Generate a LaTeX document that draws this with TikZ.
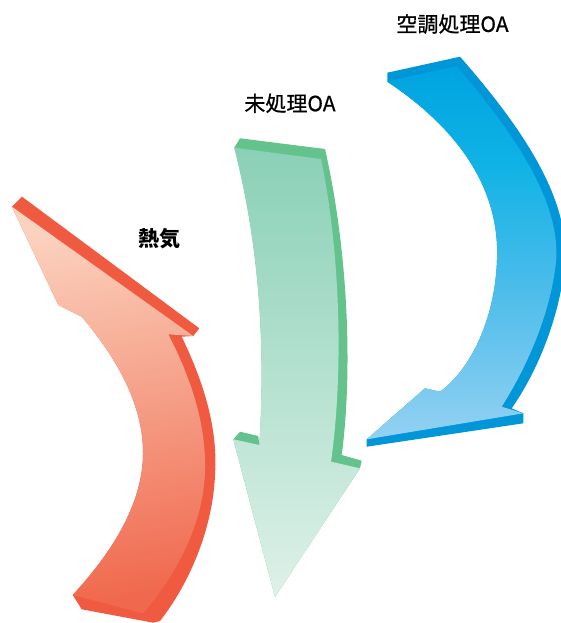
\documentclass[tikz,border=0pt]{standalone}
\usepackage{fontspec}
\newfontfamily\jp[FakeBold=0.7]{Noto Sans CJK JP}
\newfontfamily\jpb{Noto Sans CJK JP}
\definecolor{redband}{RGB}{240,90,65}
\definecolor{redtop}{RGB}{251,210,190}
\definecolor{redbot}{RGB}{240,105,78}
\definecolor{greenband}{RGB}{100,195,140}
\definecolor{greentop}{RGB}{138,208,183}
\definecolor{greenbot}{RGB}{222,241,232}
\definecolor{blueband}{RGB}{0,150,215}
\pgfdeclareverticalshading{bluegrad}{100bp}{
  rgb(0bp)=(0.58,0.82,0.95);
  rgb(25bp)=(0.58,0.82,0.95);
  rgb(45bp)=(0.30,0.74,0.92);
  rgb(62bp)=(0.06,0.70,0.90);
  rgb(75bp)=(0,0.64,0.88);
  rgb(100bp)=(0,0.64,0.88)}
\tikzset{lbl/.style={font=\jp\fontsize{21}{21}\selectfont, inner sep=0pt}}
\begin{document}
\begin{tikzpicture}[x=1pt,y=-1pt]
\useasboundingbox (0,0) rectangle (561,623);
% red arrow
\fill[redband] (12,206.7) -- (22,196.7) -- (199.3,328.3) -- (193.3,336) -- (181.7,336.7)
  .. controls (205,385) and (218,430) .. (215,475)
  .. controls (213,525) and (192,580) .. (160,621) -- (153.3,622.7) -- (81.7,609.3) -- (72.7,595)
  .. controls (105,560) and (142,510) .. (143,455)
  .. controls (144,400) and (110,350) .. (81.7,316.7) -- (58.3,305) -- cycle;
\shade[top color=redtop, bottom color=redbot, shading angle=10] (12,206.7) -- (193.3,336) -- (168.3,334.3)
  .. controls (192,380) and (206,425) .. (205,470)
  .. controls (204,520) and (180,570) .. (143.3,613.3) -- (72.7,595)
  .. controls (105,560) and (142,510) .. (143,455)
  .. controls (144,400) and (110,350) .. (81.7,316.7) -- (58.3,305) -- cycle;
% green arrow
\fill[greenband] (234.3,147.7) -- (240,138.3) -- (325,149)
  .. controls (348,250) and (353,370) .. (341.7,455) -- (361.7,460.7) -- (360,468.3) -- (275,597)
  -- (233.3,439.3) -- (240,431.7) -- (258.3,436) -- (259.3,445)
  .. controls (266,340) and (258,240) .. (234.3,147.7) -- cycle;
\shade[top color=greentop, bottom color=greenbot] (234.3,147.7) -- (321,159)
  .. controls (340,250) and (344,370) .. (331,461.7) -- (360,468.3) -- (275,597)
  -- (233.3,439.3) -- (259.3,445)
  .. controls (266,340) and (258,240) .. (234.3,147.7) -- cycle;
% blue arrow
\fill[blueband] (387.3,81.7) -- (387.3,72.7) -- (460,56.7)
  .. controls (526,132) and (574,205) .. (564,272)
  .. controls (557,325) and (535,375) .. (511.7,408.3) -- (523.3,413.3) -- (523.3,423.3)
  -- (366.7,446.7) -- (366.7,439.3) -- (425,388.3) -- (440,391.7)
  .. controls (470,370) and (495,320) .. (497,260)
  .. controls (500,190) and (460,130) .. (387.3,81.7) -- cycle;
\shade[shading=bluegrad] (387.3,81.7) -- (456.7,66)
  .. controls (520,140) and (565,210) .. (555,270)
  .. controls (548,320) and (525,370) .. (501.7,406.7) -- (523.3,413.3) -- (366.7,439.3)
  -- (425,388.3) -- (440,391.7)
  .. controls (470,370) and (495,320) .. (497,260)
  .. controls (500,190) and (460,130) .. (387.3,81.7) -- cycle;
% labels
\node[lbl] (kucho) at (452.5,24) {空調処理OA};
\node[lbl] (mishori) at (290,103.3) {未処理OA};
\node[lbl, font=\jpb\bfseries\fontsize{21}{21}\selectfont] (netsuki) at (159.2,239) {熱気};
\end{tikzpicture}
\end{document}
